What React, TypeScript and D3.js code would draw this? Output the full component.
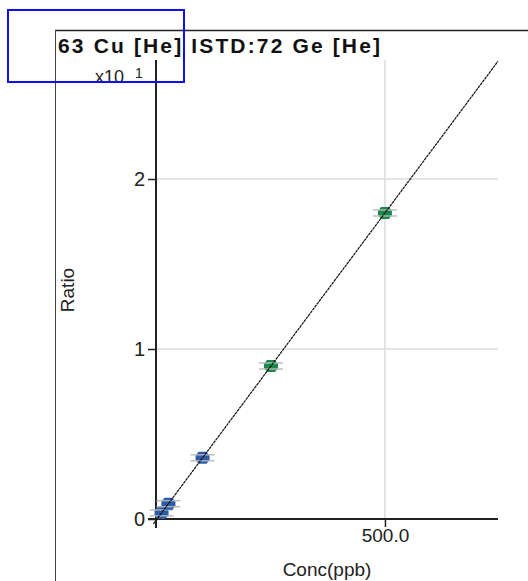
import React, { useEffect, useRef } from 'react';
import * as d3 from 'd3';

// calibration standards (ppb) and measured ratios
const concs = [10, 25, 100, 250, 500];
const ratios = [0.036, 0.09, 0.36, 0.9, 1.8];
const levelGroups = ['low', 'low', 'low', 'high', 'high'];
const yTicks = [0, 1, 2];
const xTicks = [500];
const slope = 0.0036;

const App = () => {
    const ref = useRef<SVGSVGElement>(null);

    useEffect(() => {
        const svg = d3.select(ref.current);
        svg.selectAll('*').remove();

        const x = d3.scaleLinear().domain([0, 748]).range([157, 498]);
        const y = d3.scaleLinear().domain([0, 2.7]).range([519, 60]);
        const font = 'Arial, "Liberation Sans", sans-serif';

        // outer frame lines
        svg.append('line').attr('x1', 55).attr('x2', 528).attr('y1', 30.5).attr('y2', 30.5)
            .attr('stroke', '#222').attr('stroke-width', 1.5);
        svg.append('line').attr('x1', 55.5).attr('x2', 55.5).attr('y1', 30).attr('y2', 581)
            .attr('stroke', '#444').attr('stroke-width', 1);

        // title
        svg.append('text').attr('x', 58).attr('y', 53)
            .attr('textLength', 322).attr('lengthAdjust', 'spacing')
            .style('font-family', font).style('font-size', '21px').style('font-weight', 'bold')
            .attr('fill', '#111').text('63 Cu [He] ISTD:72 Ge [He]');

        // grid
        const grid = svg.append('g');
        grid.selectAll('.hg').data(yTicks.filter((d) => d > 0)).enter().append('line')
            .attr('x1', x(0)).attr('x2', 498)
            .attr('y1', (d) => y(d)).attr('y2', (d) => y(d))
            .attr('stroke', '#dcdcdc').attr('stroke-width', 1.5);
        grid.selectAll('.vg').data(xTicks).enter().append('line')
            .attr('x1', (d) => x(d)).attr('x2', (d) => x(d))
            .attr('y1', 60).attr('y2', y(0))
            .attr('stroke', '#dcdcdc').attr('stroke-width', 1.5);

        // axes
        const yAxis = d3.axisLeft(y).tickValues(yTicks).tickSize(9).tickPadding(3)
            .tickFormat((d) => String(d));
        const gy = svg.append('g').attr('transform', 'translate(157,0)').call(yAxis);
        gy.select('.domain').remove();
        gy.selectAll('line').attr('stroke', '#222').attr('stroke-width', 1.5);
        gy.selectAll('text').style('font-family', font).style('font-size', '20px').attr('fill', '#222');
        svg.append('line').attr('x1', 156).attr('x2', 156).attr('y1', 60).attr('y2', 528)
            .attr('stroke', '#222').attr('stroke-width', 2);

        const xAxis = d3.axisBottom(x).tickValues(xTicks).tickSize(8).tickPadding(2)
            .tickFormat((d) => d3.format('.1f')(d as number));
        const gx = svg.append('g').attr('transform', `translate(0,${y(0)})`).call(xAxis);
        gx.select('.domain').remove();
        gx.selectAll('line').attr('stroke', '#222').attr('stroke-width', 1.5);
        gx.selectAll('text').style('font-family', font).style('font-size', '19px').attr('fill', '#222');
        svg.append('line').attr('x1', 148).attr('x2', 498).attr('y1', y(0)).attr('y2', y(0))
            .attr('stroke', '#222').attr('stroke-width', 2);

        // axis labels
        svg.append('text').attr('x', 95).attr('y', 83)
            .style('font-family', font).style('font-size', '18px').attr('fill', '#222')
            .text('x10');
        svg.append('text').attr('x', 135).attr('y', 78)
            .style('font-family', font).style('font-size', '14px').attr('fill', '#222')
            .text('1');
        svg.append('text').attr('transform', 'translate(74,290) rotate(-90)')
            .attr('text-anchor', 'middle')
            .style('font-family', font).style('font-size', '19px').attr('fill', '#222')
            .text('Ratio');
        svg.append('text').attr('x', 327).attr('y', 576).attr('text-anchor', 'middle')
            .style('font-family', font).style('font-size', '19px').attr('fill', '#222')
            .text('Conc(ppb)');

        // points
        const pts = svg.append('g');
        concs.forEach((c, i) => {
            const cx = x(c);
            const cy = y(ratios[i]);
            const fill = levelGroups[i] === 'low' ? '#2a5caa' : '#1a8a4c';
            pts.append('path')
                .attr('d', `M${cx - 7},${cy - 2} L${cx - 4},${cy - 6} L${cx + 4},${cy - 6} L${cx + 7},${cy - 2} L${cx + 7},${cy + 2} L${cx + 4},${cy + 6} L${cx - 4},${cy + 6} L${cx - 7},${cy + 2} Z`)
                .attr('fill', fill);
            [-3, 3].forEach((o) => {
                pts.append('line').attr('x1', cx - 12).attr('x2', cx + 12)
                    .attr('y1', cy + o).attr('y2', cy + o)
                    .attr('stroke', '#b8b8b8').attr('stroke-width', 1.5).attr('opacity', 0.9);
            });
        });

        // fit line
        const line = d3.line<number>().x((d) => x(d)).y((d) => y(d * slope));
        svg.append('path').datum([-8, 748]).attr('d', line)
            .attr('fill', 'none').attr('stroke', '#111').attr('stroke-width', 1.2)
            .attr('stroke-dasharray', '3,0.6');

        // selection box
        svg.append('rect').attr('x', 8).attr('y', 10).attr('width', 176).attr('height', 72)
            .attr('fill', 'none').attr('stroke', '#1010ee').attr('stroke-width', 2);
    }, []);

    return (
        <svg ref={ref} width={528} height={581}
            style={{ position: 'absolute', left: 0, top: 0, background: '#fff' }} />
    );
};

export default App;
